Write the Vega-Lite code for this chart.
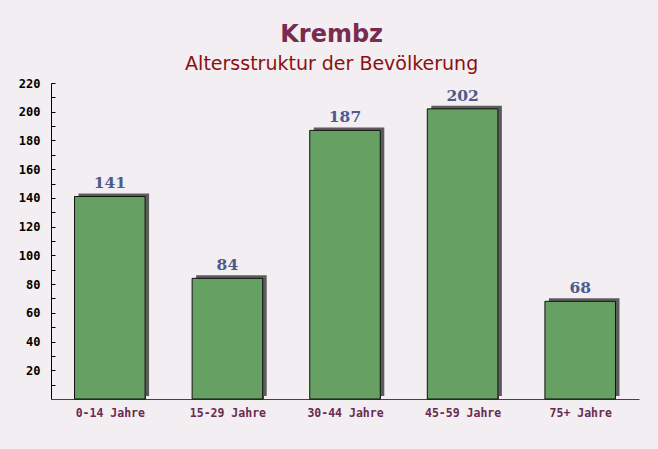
{
  "$schema": "https://vega.github.io/schema/vega-lite/v6.json",
  "width": 588,
  "height": 316,
  "autosize": {"type": "none"},
  "padding": {"left": 51, "top": 83, "right": 19, "bottom": 50},
  "background": "#f2eef1",
  "title": {
    "text": "Krembz",
    "subtitle": "Altersstruktur der Bevölkerung",
    "anchor": "middle",
    "frame": "bounds",
    "dx": 3,
    "font": "DejaVu Sans",
    "fontSize": 24,
    "fontWeight": "bold",
    "color": "#7a2b52",
    "subtitleFont": "DejaVu Sans",
    "subtitleFontSize": 19,
    "subtitleColor": "#8b1010",
    "subtitlePadding": 8,
    "offset": 3
  },
  "data": {
    "values": [
      {"gruppe": "0-14 Jahre", "anzahl": 141},
      {"gruppe": "15-29 Jahre", "anzahl": 84},
      {"gruppe": "30-44 Jahre", "anzahl": 187},
      {"gruppe": "45-59 Jahre", "anzahl": 202},
      {"gruppe": "75+ Jahre", "anzahl": 68}
    ]
  },
  "encoding": {
    "x": {
      "field": "gruppe",
      "type": "nominal",
      "sort": null,
      "scale": {"paddingInner": 0.4, "paddingOuter": 0.2},
      "axis": {
        "title": null,
        "labelAngle": 0,
        "tickBand": "extent",
        "tickSize": -5,
        "domainColor": "#6b2a4f",
        "tickColor": "#6b2a4f",
        "labelColor": "#6b2a4f",
        "labelFont": "DejaVu Sans Mono",
        "labelFontWeight": "bold",
        "labelFontSize": 11.5,
        "labelPadding": 13
      }
    },
    "y": {
      "field": "anzahl",
      "type": "quantitative",
      "scale": {"domain": [0, 220], "nice": false},
      "axis": {
        "title": null,
        "grid": false,
        "values": [10, 20, 30, 40, 50, 60, 70, 80, 90, 100, 110, 120, 130, 140, 150, 160, 170, 180, 190, 200, 210, 220],
        "labelExpr": "datum.value % 20 == 0 ? datum.label : ''",
        "tickSize": -4,
        "domainColor": "#000000",
        "tickColor": "#000000",
        "labelColor": "#000000",
        "labelFont": "DejaVu Sans Mono",
        "labelFontWeight": "bold",
        "labelFontSize": 12,
        "labelPadding": 15
      }
    }
  },
  "layer": [
    {"mark": {"type": "bar", "color": "#5c5c5c", "xOffset": 4, "yOffset": -3}},
    {"mark": {"type": "bar", "color": "#66a063", "stroke": "#111111", "strokeWidth": 1}},
    {
      "mark": {"type": "text", "baseline": "bottom", "dy": -5, "font": "DejaVu Serif", "fontWeight": "bold", "fontSize": 15.5, "color": "#4f5a8c"},
      "encoding": {"text": {"field": "anzahl", "type": "quantitative"}}
    }
  ],
  "config": {"view": {"stroke": null}}
}
